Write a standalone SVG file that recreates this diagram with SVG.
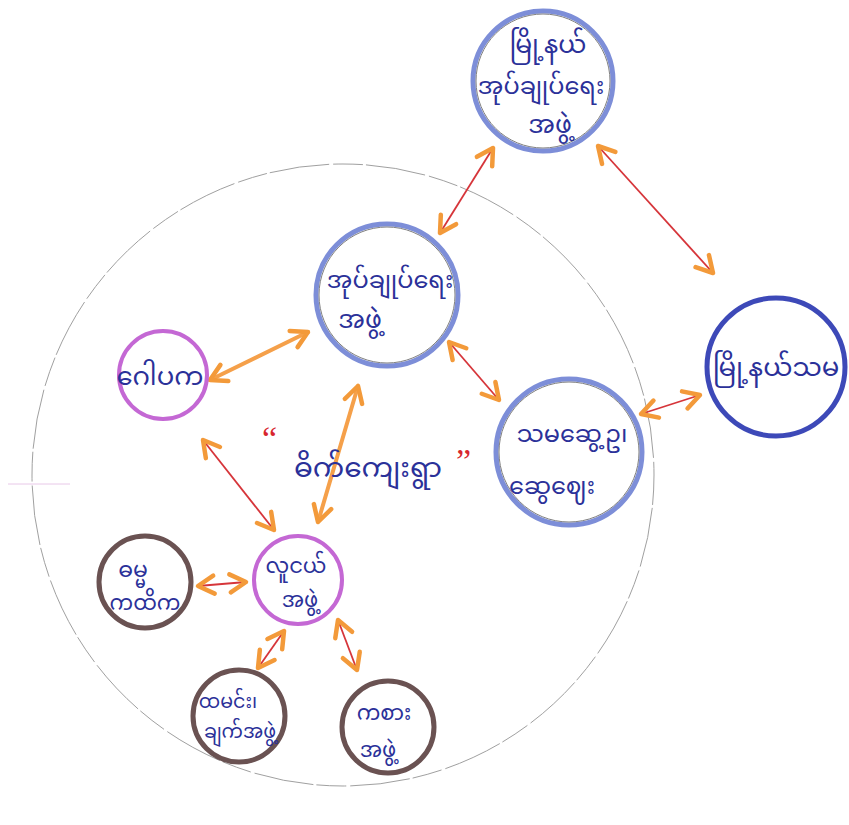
<svg xmlns="http://www.w3.org/2000/svg" width="849" height="825" viewBox="0 0 849 825">
<style>
.t{font-family:"Noto Sans","Noto Sans Myanmar","Myanmar Text","Padauk",sans-serif;fill:#2b3199;text-anchor:middle}
.q{font-family:"Liberation Serif",serif;fill:#d8262e;font-size:34px}
.red{stroke:#d6353a;stroke-width:1.8;fill:none}
.org{stroke:#f5a04a;stroke-width:4;fill:none;stroke-linecap:round}
.bl1{fill:none;stroke:#7d8ed8;stroke-width:5}
.bl2{fill:none;stroke:#3d49b8;stroke-width:5}
.pu{fill:none;stroke:#c468d4;stroke-width:4}
.br{fill:none;stroke:#6a5252;stroke-width:5}
.in{fill:none;stroke:#808080;stroke-width:1}
</style>
<defs>
<marker id="ah" viewBox="0 0 24 24" refX="21" refY="12" markerWidth="24" markerHeight="24" markerUnits="userSpaceOnUse" orient="auto-start-reverse">
<path d="M5,3 L21,12 L5,21" fill="none" stroke="#f39a3a" stroke-width="4.5" stroke-linecap="round" stroke-linejoin="round"/>
</marker>
</defs>
<rect width="849" height="825" fill="#fff"/>
<circle cx="343" cy="475" r="311" fill="none" stroke="#a0a0a0" stroke-width="1" stroke-dasharray="30 3 60 4"/>
<line x1="8" y1="484" x2="70" y2="484" stroke="#e8c8e8" stroke-width="1"/>

<g id="connectors">
<line class="red" x1="493" y1="148" x2="440" y2="233" marker-start="url(#ah)" marker-end="url(#ah)"/>
<line class="red" x1="598" y1="146" x2="713" y2="273" marker-start="url(#ah)" marker-end="url(#ah)"/>
<line class="red" x1="449" y1="342" x2="499" y2="400" marker-start="url(#ah)" marker-end="url(#ah)"/>
<line class="red" x1="641" y1="414" x2="700" y2="395" marker-start="url(#ah)" marker-end="url(#ah)"/>
<line class="org" x1="210" y1="380" x2="308" y2="332" marker-start="url(#ah)" marker-end="url(#ah)"/>
<line class="org" x1="358" y1="386" x2="318" y2="522" marker-start="url(#ah)" marker-end="url(#ah)"/>
<line class="red" x1="203" y1="440" x2="274" y2="530" marker-start="url(#ah)" marker-end="url(#ah)"/>
<line class="red" x1="198" y1="586" x2="246" y2="582" marker-start="url(#ah)" marker-end="url(#ah)"/>
<line class="red" x1="284" y1="631" x2="258" y2="668" marker-start="url(#ah)" marker-end="url(#ah)"/>
<line class="red" x1="338" y1="620" x2="357" y2="670" marker-start="url(#ah)" marker-end="url(#ah)"/>
</g>

<g id="n-township-admin">
<circle class="bl1" cx="543" cy="81" r="70"/><circle class="in" cx="543" cy="81" r="67"/>
<text class="t" x="548" y="53" font-size="25">မြို့နယ်</text>
<text class="t" x="541" y="94" font-size="24">အုပ်ချုပ်ရေး</text>
<text class="t" x="550" y="133" font-size="25">အဖွဲ့</text>
</g>

<g id="n-admin">
<circle class="bl1" cx="387" cy="295" r="71"/><circle class="in" cx="387" cy="295" r="68"/>
<text class="t" x="390" y="288" font-size="24">အုပ်ချုပ်ရေး</text>
<text class="t" x="360" y="328" font-size="25">အဖွဲ့</text>
</g>

<g id="n-township-right">
<circle class="bl2" cx="776" cy="367" r="69"/>
<text class="t" x="776" y="376" font-size="26">မြို့နယ်သမ</text>
</g>

<g id="n-mid-right">
<circle class="bl1" cx="569" cy="452" r="73"/><circle class="in" cx="569" cy="452" r="70"/>
<text class="t" x="572" y="442" font-size="24">သမဆွေ့ဥ၊</text>
<text class="t" x="552" y="494" font-size="24">ဆွေဈေး</text>
</g>

<g id="n-gopaka">
<circle class="pu" cx="163" cy="375" r="44"/>
<text class="t" x="160" y="385" font-size="26">ဂေါပက</text>
</g>

<g id="village-label">
<text class="q" x="262" y="450">“</text>
<text class="t" x="368" y="477" font-size="28">ဓိက်ကျေးရွာ</text>
<text class="q" x="456" y="472">”</text>
</g>

<g id="n-youth">
<circle class="pu" cx="298" cy="580" r="44"/>
<text class="t" x="296" y="573" font-size="21">လူငယ်</text>
<text class="t" x="300" y="607" font-size="21">အဖွဲ့</text>
</g>

<g id="n-dhamma">
<circle class="br" cx="145" cy="582" r="46"/>
<text class="t" x="133" y="577" font-size="22">ဓမ္မ</text>
<text class="t" x="145" y="610" font-size="21">ကထိက</text>
</g>

<g id="n-cooking">
<circle class="br" cx="239" cy="716" r="46"/>
<text class="t" x="228" y="708" font-size="19">ထမင်း၊</text>
<text class="t" x="240" y="738" font-size="19">ချက်အဖွဲ့</text>
</g>

<g id="n-sports">
<circle class="br" cx="388" cy="727" r="46"/>
<text class="t" x="384" y="720" font-size="21">ကစား</text>
<text class="t" x="378" y="757" font-size="21">အဖွဲ့</text>
</g>
</svg>
